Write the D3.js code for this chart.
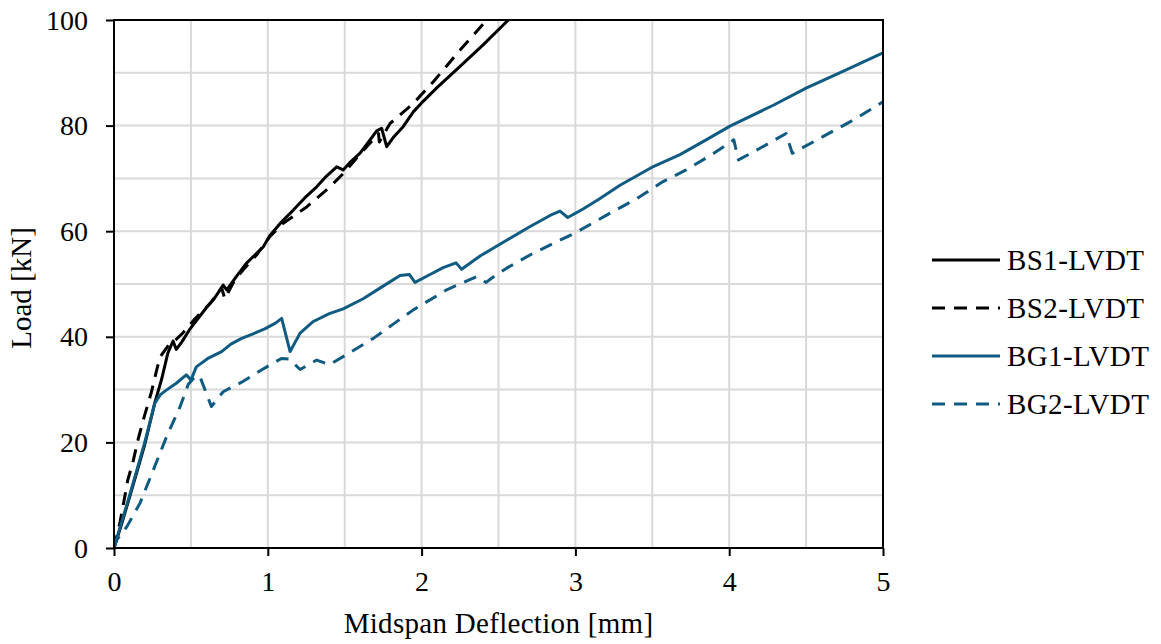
<!DOCTYPE html>
<html>
<head>
<meta charset="utf-8">
<script src="https://cdn.jsdelivr.net/npm/d3@7"></script>
<style>
  html, body { margin: 0; padding: 0; background: #fff; }
  svg text { font-family: "Liberation Serif", "Times New Roman", serif; fill: #000; }
</style>
</head>
<body>
<svg id="chart" width="1161" height="644"></svg>
<script>
// Load–deflection readings, [deflection mm, load kN]
const seriesNames = ["BS1-LVDT", "BS2-LVDT", "BG1-LVDT", "BG2-LVDT"];

const bs1 = [[0,0],[0.05,4.6],[0.1,9.5],[0.15,14.5],[0.2,19.6],[0.265,27.5],[0.31,32],[0.35,36.9],[0.384,39.2],[0.405,37.6],[0.44,39],[0.49,41.3],[0.54,43.2],[0.6,45.5],[0.646,47.0],[0.71,49.8],[0.733,48.9],[0.8,51.6],[0.86,53.9],[0.97,57.0],[1.014,59.2],[1.09,61.8],[1.166,64.0],[1.24,66.3],[1.318,68.4],[1.38,70.4],[1.448,72.2],[1.49,71.6],[1.54,73.2],[1.6,74.8],[1.65,76.7],[1.708,79.0],[1.74,79.5],[1.773,76.0],[1.82,77.9],[1.88,79.8],[1.946,82.6],[2.01,84.6],[2.1,87.2],[2.25,91.2],[2.4,95.3],[2.564,100]];

const bs2 = [[0,0],[0.04,5],[0.09,12.9],[0.125,16.5],[0.156,20.5],[0.19,24.2],[0.243,29.5],[0.28,34],[0.30,36.2],[0.364,38.8],[0.40,39.4],[0.45,40.8],[0.52,43.2],[0.624,46.3],[0.70,49.3],[0.72,47.2],[0.78,50.5],[0.84,52.7],[0.93,55.6],[1.014,59.0],[1.1,61.5],[1.253,64.6],[1.404,68.4],[1.49,70.9],[1.6,74.6],[1.72,78.5],[1.725,76.9],[1.795,80.4],[1.946,84.2],[2.076,88.3],[2.25,94.3],[2.423,100]];

const bg1 = [[0,0],[0.03,3],[0.1,9.8],[0.2,20],[0.265,27.4],[0.3,29],[0.34,29.9],[0.405,31.2],[0.47,32.8],[0.50,31.8],[0.535,34.3],[0.61,35.9],[0.70,37.2],[0.76,38.6],[0.83,39.7],[0.9,40.5],[0.98,41.5],[1.05,42.6],[1.09,43.5],[1.145,37.2],[1.21,40.7],[1.296,42.9],[1.40,44.4],[1.49,45.3],[1.62,47.2],[1.75,49.6],[1.86,51.6],[1.92,51.8],[1.957,50.3],[2.055,51.8],[2.14,53.1],[2.224,54.0],[2.26,52.8],[2.38,55.3],[2.553,58.3],[2.7,60.8],[2.85,63.2],[2.9,63.8],[2.95,62.6],[3.05,64.2],[3.15,66.0],[3.29,68.7],[3.51,72.3],[3.68,74.5],[3.85,77.3],[4.005,79.9],[4.29,83.9],[4.5,87.1],[4.764,90.6],[5.0,93.8]];

const bg2 = [[0,0],[0.017,1.5],[0.083,4.0],[0.169,8.5],[0.256,14.8],[0.342,21.1],[0.43,26.8],[0.483,31.0],[0.52,32.2],[0.557,32.6],[0.633,26.8],[0.71,29.6],[0.83,31.4],[0.958,33.7],[1.088,35.9],[1.14,35.8],[1.21,33.8],[1.318,35.6],[1.40,34.7],[1.51,36.6],[1.686,39.7],[1.82,42.5],[1.946,45.1],[2.163,48.9],[2.358,51.4],[2.42,50.3],[2.45,51.0],[2.553,53.0],[2.705,55.5],[2.90,58.3],[3.0,59.7],[3.2,63.0],[3.40,66.2],[3.57,69.4],[3.72,71.6],[3.90,74.75],[4.03,77.3],[4.06,73.5],[4.20,75.7],[4.37,78.5],[4.41,74.75],[4.59,77.6],[4.81,81.1],[5.0,84.5]];

const xTicks = [0, 1, 2, 3, 4, 5];
const yTicks = [0, 20, 40, 60, 80, 100];
const xGrid = [0.5, 1, 1.5, 2, 2.5, 3, 3.5, 4, 4.5];
const yGrid = [10, 20, 30, 40, 50, 60, 70, 80, 90];

const xTitle = "Midspan Deflection [mm]";
const yTitle = "Load [kN]";

// styling for each series
const BLUE = "#0f5b82";
const styles = [
  { color: "#000", dash: null },
  { color: "#000", dash: "13,9" },
  { color: BLUE, dash: null },
  { color: BLUE, dash: "13,9" }
];
const seriesData = [bs1, bs2, bg1, bg2];

const svg = d3.select("#chart");
const plot = { left: 114, right: 883, top: 20, bottom: 548 };

const x = d3.scaleLinear().domain([0, 5]).range([plot.left, plot.right]);
const y = d3.scaleLinear().domain([0, 100]).range([plot.bottom, plot.top]);

// grid
const grid = svg.append("g").attr("stroke", "#d9d9d9").attr("stroke-width", 2);
grid.selectAll("line.v").data(xGrid).join("line")
  .attr("x1", d => x(d)).attr("x2", d => x(d))
  .attr("y1", plot.top).attr("y2", plot.bottom);
grid.selectAll("line.h").data(yGrid).join("line")
  .attr("x1", plot.left).attr("x2", plot.right)
  .attr("y1", d => y(d)).attr("y2", d => y(d));

// clip lines to the plotting area
svg.append("clipPath").attr("id", "plotClip").append("rect")
  .attr("x", plot.left).attr("y", plot.top)
  .attr("width", plot.right - plot.left).attr("height", plot.bottom - plot.top);

const line = d3.line().x(d => x(d[0])).y(d => y(d[1]));

svg.append("g").attr("clip-path", "url(#plotClip)")
  .selectAll("path").data(seriesData).join("path")
  .attr("d", line)
  .attr("fill", "none")
  .attr("stroke", (d, i) => styles[i].color)
  .attr("stroke-width", 3)
  .attr("stroke-linejoin", "round")
  .attr("stroke-dasharray", (d, i) => styles[i].dash);

// axes
const xAxis = d3.axisBottom(x).tickValues(xTicks).tickSize(8).tickSizeOuter(0).tickFormat(d3.format("d"));
const yAxis = d3.axisLeft(y).tickValues(yTicks).tickSize(8).tickSizeOuter(0).tickFormat(d3.format("d"));

const gx = svg.append("g").attr("transform", `translate(0,${plot.bottom})`).call(xAxis);
const gy = svg.append("g").attr("transform", `translate(${plot.left},0)`).call(yAxis);

[gx, gy].forEach(g => {
  g.select(".domain").remove();
  g.selectAll(".tick line").attr("stroke", "#000").attr("stroke-width", 2);
  g.selectAll(".tick text").attr("font-size", 28).attr("font-family", "Liberation Serif").attr("fill", "#000");
});
gx.selectAll(".tick text").attr("dy", null).attr("y", 43);
gy.selectAll(".tick text").attr("dy", null).attr("x", -26).attr("y", 9);

// plot border
svg.append("rect")
  .attr("x", plot.left).attr("y", plot.top)
  .attr("width", plot.right - plot.left).attr("height", plot.bottom - plot.top)
  .attr("fill", "none").attr("stroke", "#000").attr("stroke-width", 2);

// axis titles
svg.append("text").attr("x", (plot.left + plot.right) / 2).attr("y", 633)
  .attr("text-anchor", "middle").attr("font-size", 29).attr("letter-spacing", 0.3).text(xTitle);
svg.append("text").attr("transform", "translate(31,288) rotate(-90)")
  .attr("text-anchor", "middle").attr("font-size", 29).text(yTitle);

// legend
const legend = svg.append("g");
const rows = legend.selectAll("g").data(seriesNames).join("g")
  .attr("transform", (d, i) => `translate(932,${260 + i * 48})`);
rows.append("line")
  .attr("x1", 0).attr("x2", 68).attr("y1", 0).attr("y2", 0)
  .attr("stroke", (d, i) => styles[i].color)
  .attr("stroke-width", 3)
  .attr("stroke-dasharray", (d, i) => styles[i].dash);
rows.append("text").attr("x", 75).attr("y", 10)
  .attr("font-size", 29).attr("letter-spacing", 0.4).text(d => d);
</script>
</body>
</html>
